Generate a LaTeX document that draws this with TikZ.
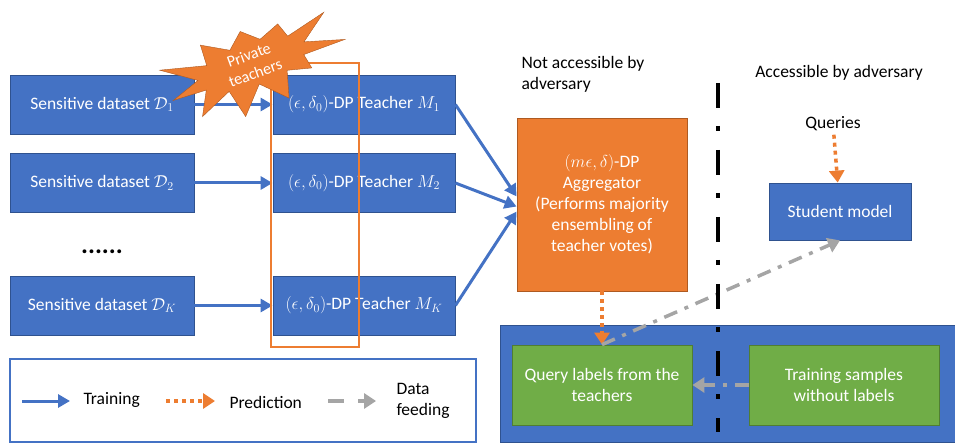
\documentclass[tikz,border=0pt]{standalone}
\usepackage{fontspec}
\setmainfont{Carlito}
\usepackage{amsmath,amssymb}
\usepackage{xcolor}
\usepackage{tikz}
\usetikzlibrary{calc,arrows.meta,positioning,shapes.symbols}
\definecolor{bluex}{HTML}{4472C4}
\definecolor{bluedk}{HTML}{2F528F}
\definecolor{orangex}{HTML}{ED7D31}
\definecolor{orangedk}{HTML}{AE5A21}
\definecolor{greenx}{HTML}{70AD47}
\definecolor{greendk}{HTML}{507E32}
\definecolor{grayx}{HTML}{A5A5A5}
\tikzset{
  bx/.style={draw=bluedk,thick,fill=bluex,text=white,minimum height=59pt,align=center,inner sep=2pt},
  ob/.style={draw=orangedk,thick,fill=orangex,text=white,align=center,inner sep=2pt},
  gb/.style={draw=greendk,thick,fill=greenx,text=white,align=center,inner sep=2pt},
  tr/.style={-{Triangle[length=12pt,width=13pt]},line width=3pt,bluex},
  pr/.style={-{Triangle[length=12pt,width=15pt]},line width=3.5pt,orangex,dash pattern=on 4pt off 4pt},
  fd/.style={-{Triangle[length=12pt,width=15pt]},line width=3.5pt,grayx,dash pattern=on 14pt off 8pt on 4pt off 8pt},
  burst/.style={starburst,starburst points=11,starburst point height=42pt,random starburst=3,
    fill=orangex,draw=orangedk,text=white,align=center,rotate=20,minimum width=198pt,minimum height=110pt,
    inner sep=0pt,font=\fontsize{16}{19}\selectfont}
}

\begin{document}
\begin{tikzpicture}[x=1pt,y=-1pt,font=\fontsize{17.5}{21}\selectfont]
\useasboundingbox (0,0) rectangle (955,443);
% datasets and teachers
\node[bx,minimum width=184pt] (d1) at (102,104.5) {Sensitive dataset $\mathcal{D}_1$};
\node[bx,minimum width=184pt] (d2) at (102,183) {Sensitive dataset $\mathcal{D}_2$};
\node[font=\fontsize{26}{28}\selectfont\bfseries] (dots) at (102,252) {......};
\node[bx,minimum width=184pt] (dK) at (102,305.5) {Sensitive dataset $\mathcal{D}_K$};
\node[bx,minimum width=182pt] (t1) at (364,104.5) {$(\epsilon,\delta_0)$-DP Teacher $M_1$};
\node[bx,minimum width=182pt] (t2) at (364,183) {$(\epsilon,\delta_0)$-DP Teacher $M_2$};
\node[bx,minimum width=182pt] (tK) at (364,305.5) {$(\epsilon,\delta_0)$-DP Teacher $M_K$};
\foreach \i in {1,2,K}{\draw[tr] (d\i) -- (t\i);}
% aggregator
\node[ob,minimum width=170pt,minimum height=173pt] (agg) at (602,204.5)
  {$(m\epsilon,\delta)$-DP\\Aggregator\\(Performs majority\\ensembling of\\teacher votes)};
\draw[tr] (t1.east) -- ([yshift=8pt]agg.west);
\draw[tr] (t2.east) -- ([yshift=-2pt]agg.west);
\draw[tr] (tK.east) -- ([yshift=-7pt]agg.west);
% private teachers
\node[draw=orangex,line width=2pt,minimum width=88pt,minimum height=284pt] (priv) at (315,205) {};
\node[burst] (star) at (252,64) {Private\\teachers};
% adversary side
\node[align=left,anchor=north west] (nacc) at (518,53) {Not accessible by\\adversary};
\node (acc) at (839,73) {Accessible by adversary};
\node (qry) at (833,124) {Queries};
\node[bx,minimum width=142pt,minimum height=57pt] (stu) at (840,211.5) {Student model};
\draw[pr] (qry) -- (stu);
\node[fill=bluex,draw=bluedk,thick,minimum width=460pt,minimum height=117pt] (pool) at (730,383.5) {};
\node[gb,minimum width=180pt,minimum height=80pt] (qlab) at (602,385) {Query labels from the\\teachers};
\node[gb,minimum width=190pt,minimum height=80pt] (tsam) at (844,385) {Training samples\\without labels};
\draw[pr] (agg) -- (qlab);
\draw[fd] (qlab.north) -- (stu.south);
\draw[fd] (tsam) -- (qlab);
\coordinate (divtop) at (718,83);
\coordinate (divbot) at (718,432);
\draw[black,line width=4pt,dash pattern=on 25pt off 18pt on 5pt off 19pt] (divtop) -- (divbot);
% legend
\node[draw=bluex,line width=1.5pt,fill=white,minimum width=466pt,minimum height=83pt] (leg) at (243,400.5) {};
\coordinate (la) at (22,401); \coordinate (lb) at (70,401);
\coordinate (lc) at (166,401); \coordinate (ld) at (215,401);
\coordinate (le) at (328,401); \coordinate (lf) at (376,401);
\draw[tr] (la) -- (lb);
\node[anchor=west] (ltr) at (80,400) {Training};
\draw[pr] (lc) -- (ld);
\node[anchor=west] (lpr) at (226,402) {Prediction};
\draw[fd,dash pattern=on 16pt off 14pt] (le) -- (lf);
\node[anchor=west,align=left] (lfd) at (393,401) {Data\\feeding};
\end{tikzpicture}
\end{document}
